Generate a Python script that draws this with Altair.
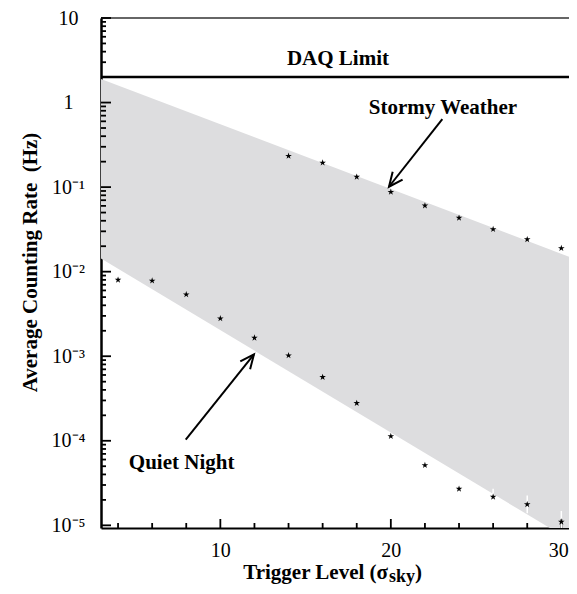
import math
import altair as alt
import pandas as pd

# ---------------- data ----------------
quiet_x = [4, 6, 8, 10, 12, 14, 16, 18, 20, 22, 24, 26, 28, 30]
quiet_rate = [0.0080, 0.0078, 0.00537, 0.00279, 0.00165, 0.00102, 0.000566,
              0.000279, 0.000113, 5.14e-5, 2.70e-5, 2.17e-5, 1.77e-5, 1.10e-5]
stormy_x = [14, 16, 18, 20, 22, 24, 26, 28, 30]
stormy_rate = [0.233, 0.194, 0.132, 0.0875, 0.0603, 0.0432, 0.0317, 0.0241, 0.0189]

err_x = [26, 28, 30]
err_lo = [1.75e-5, 1.39e-5, 0.82e-5]
err_hi = [2.70e-5, 2.26e-5, 1.48e-5]

band_x = [3, 30.45]
band_upper = [1.9, 0.0150]
band_lower = [0.0143, 6.8e-6]

daq_limit = 2.0

x_major = [10, 20, 30]
x_minor = [4, 6, 8, 12, 14, 16, 18, 22, 24, 26, 28]
y_major = [1e-5, 1e-4, 1e-3, 1e-2, 1e-1, 1, 10]
y_minor = [m * 10 ** e for e in range(-6, 1) for m in range(2, 10)]

ann_text = ["DAQ Limit", "Stormy Weather", "Quiet Night"]
ann_x = [16.9, 23.06, 7.73]
ann_y = [3.28, 0.866, 5.53e-5]

arrow_tail_x = [23.02, 7.97]
arrow_tail_y = [0.637, 1.03e-4]
arrow_tip_x = [19.89, 11.97]
arrow_tip_y = [0.101, 1.05e-3]

# ---------------- layout ----------------
X_DOMAIN = [3, 30.45]
Y_DOMAIN = [9.3e-6, 10]
W, H = 468, 510
FONT = "Liberation Serif"

y_minor = [v for v in y_minor if Y_DOMAIN[0] < v < Y_DOMAIN[1]]

px_per_x = W / (X_DOMAIN[1] - X_DOMAIN[0])
px_per_dec = H / (math.log10(Y_DOMAIN[1]) - math.log10(Y_DOMAIN[0]))

def screen_angle(x0, y0, x1, y1):
    dx = (x1 - x0) * px_per_x
    dy = -(math.log10(y1) - math.log10(y0)) * px_per_dec
    return math.degrees(math.atan2(dy, dx)) % 360

arrow_df = pd.DataFrame({
    "tx": arrow_tail_x, "ty": arrow_tail_y,
    "hx": arrow_tip_x, "hy": arrow_tip_y,
    "ang": [screen_angle(a, b, c, d) for a, b, c, d in
            zip(arrow_tail_x, arrow_tail_y, arrow_tip_x, arrow_tip_y)],
})

x_scale = alt.Scale(domain=X_DOMAIN, nice=False, zero=False)
y_scale = alt.Scale(type="log", domain=Y_DOMAIN, nice=False)

STAR = ("M0,-1 L0.2245,-0.309 L0.951,-0.309 L0.363,0.118 L0.588,0.809 "
        "L0,0.382 L-0.588,0.809 L-0.363,0.118 L-0.951,-0.309 L-0.2245,-0.309 Z")
HEAD = "M -1 -0.45 L 0 0 L -1 0.45"

sup_expr = ("datum.value >= 10 ? '10' : datum.value >= 1 ? '1' : "
            "'10' + ['', '\u207b\u00b9', '\u207b\u00b2', '\u207b\u00b3', '\u207b\u2074', '\u207b\u2075']"
            "[round(-log(datum.value) / LN10)]")

x_axis = alt.Axis(values=x_major, ticks=False, grid=False, title=None,
                  domainColor="black", domainWidth=2,
                  labelFont=FONT, labelFontSize=20, labelColor="black",
                  labelPadding=12, labelFlush=False, labelOverlap=False,
                  labelOffset=alt.condition("datum.value == 30", alt.value(-3), alt.value(0)))
y_axis = alt.Axis(values=y_major, ticks=False, grid=False,
                  title="Average Counting Rate\u00a0 (Hz)",
                  titleFont=FONT, titleFontSize=21, titleFontWeight="bold",
                  titleColor="black", titleAngle=270, titleAlign="center",
                  titleBaseline="middle", titleX=-71, titleY=244,
                  domainColor="black", domainWidth=2.5,
                  labelExpr=sup_expr, labelAlign="center", labelBaseline="middle",
                  labelPadding=33, labelFont=FONT, labelFontSize=20,
                  labelColor="black", labelFlush=False, labelOverlap=False)


def X(field):
    return alt.X(field, scale=x_scale, axis=x_axis)


def Y(field):
    return alt.Y(field, scale=y_scale, axis=y_axis)


band = alt.Chart(pd.DataFrame({"x": band_x, "upper": band_upper, "lower": band_lower})).mark_area(
    color="#dddddf", clip=True).encode(x=X("x:Q"), y=Y("upper:Q"), y2="lower:Q")

ymaj = alt.Chart(pd.DataFrame({"ym": y_major})).mark_tick(
    orient="horizontal", size=10, thickness=1.8, color="black", opacity=1).encode(
    y=Y("ym:Q"), x=alt.value(5))
ymin = alt.Chart(pd.DataFrame({"yn": y_minor})).mark_tick(
    orient="horizontal", size=5, thickness=1.8, color="black", opacity=1).encode(
    y=Y("yn:Q"), x=alt.value(2.5))
xmaj = alt.Chart(pd.DataFrame({"xm": x_major})).mark_tick(
    orient="vertical", size=9, thickness=1.8, color="black", opacity=1).encode(
    x=X("xm:Q"), y=alt.value(H - 4.5))
xmin = alt.Chart(pd.DataFrame({"xn": x_minor})).mark_tick(
    orient="vertical", size=5, thickness=1.8, color="black", opacity=1).encode(
    x=X("xn:Q"), y=alt.value(H - 2.5))

top_line = alt.Chart(pd.DataFrame({"top": [Y_DOMAIN[1]]})).mark_rule(color="#666666", strokeWidth=2).encode(
    y=Y("top:Q"))
daq_line = alt.Chart(pd.DataFrame({"daq": [daq_limit]})).mark_rule(color="black", strokeWidth=2.5).encode(
    y=Y("daq:Q"))

errs = alt.Chart(pd.DataFrame({"x": err_x, "lo": err_lo, "hi": err_hi})).mark_rule(
    color="white", strokeWidth=1.5, clip=True).encode(x=X("x:Q"), y=Y("lo:Q"), y2="hi:Q")

pts_df = pd.DataFrame({
    "x": quiet_x + stormy_x,
    "rate": quiet_rate + stormy_rate,
})
stars = alt.Chart(pts_df).mark_point(shape=STAR, filled=True, color="black", size=48, opacity=1).encode(
    x=X("x:Q"), y=Y("rate:Q"))

shafts = alt.Chart(arrow_df).mark_rule(color="black", strokeWidth=2).encode(
    x=X("tx:Q"), y=Y("ty:Q"), x2="hx:Q", y2="hy:Q")
heads = alt.Chart(arrow_df).mark_point(shape=HEAD, filled=False, stroke="black", strokeWidth=2,
                                       size=784, opacity=1).encode(
    x=X("hx:Q"), y=Y("hy:Q"), angle=alt.Angle("ang:Q", scale=None))

ann = alt.Chart(pd.DataFrame({"x": ann_x, "y": ann_y, "t": ann_text})).mark_text(
    font=FONT, fontWeight="bold", fontSize=21, color="black", align="center", baseline="middle").encode(
    x=X("x:Q"), y=Y("y:Q"), text="t:N")

one = pd.DataFrame({"k": [0]})
xt1 = alt.Chart(one).mark_text(text="Trigger Level (\u03c3", font=FONT, fontWeight="bold", fontSize=21,
                               color="black", align="right", baseline="alphabetic").encode(
    x=alt.value(287), y=alt.value(H + 51))
xt2 = alt.Chart(one).mark_text(text="sky", font=FONT, fontWeight="bold", fontSize=18,
                               color="black", align="left", baseline="alphabetic").encode(
    x=alt.value(288), y=alt.value(H + 54))
xt3 = alt.Chart(one).mark_text(text=")", font=FONT, fontWeight="bold", fontSize=21,
                               color="black", align="left", baseline="alphabetic").encode(
    x=alt.value(314), y=alt.value(H + 51))

chart = alt.layer(
    band, top_line, daq_line, ymin, ymaj, xmin, xmaj, errs, stars, shafts, heads, ann, xt1, xt2, xt3
).properties(
    width=W, height=H,
    autosize=alt.AutoSizeParams(type="none"),
    padding={"left": 93, "top": 10, "right": 0, "bottom": 58},
).configure_view(stroke=None)

chart.save("out.html", embed_options={"renderer": "svg", "actions": False})
